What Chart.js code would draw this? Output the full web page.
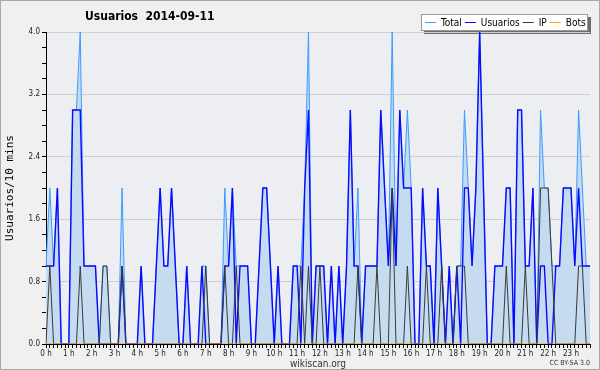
<!DOCTYPE html>
<html>
<head>
<meta charset="utf-8">
<script src="https://cdn.jsdelivr.net/npm/chart.js@4.4.1/dist/chart.umd.min.js"></script>
<style>
  html, body { margin: 0; padding: 0; background: #f0f0f0; }
  canvas { display: block; }
</style>
</head>
<body>
<canvas id="chart" width="600" height="370"></canvas>
<script>
// hour tick labels, one per 6 slots of 10 min
const hours = ['0 h','1 h','2 h','3 h','4 h','5 h','6 h','7 h','8 h','9 h','10 h','11 h',
               '12 h','13 h','14 h','15 h','16 h','17 h','18 h','19 h','20 h','21 h','22 h','23 h'];

// values per 10 minutes, 12 per row (2 hours)
const total = [
  1,2,1,2,0,0,0,3,3,4,1,1,
  1,1,0,1,1,0,0,0,2,0,0,0,
  0,1,0,0,0,1,2,1,1,2,1,0,
  0,1,0,0,0,1,1,0,0,0,0,2,
  1,2,1,1,1,1,0,0,1,2,2,1,
  0,1,0,0,0,1,1,1,2,4,0,1,
  1,1,0,1,0,1,0,1,3,1,2,0,
  1,1,1,1,3,2,1,4,1,3,2,3,
  2,0,0,2,1,1,0,2,1,0,1,0,
  1,1,3,2,1,2,4,2,0,0,1,1,
  1,2,2,0,3,3,1,1,2,0,3,2,
  2,1,1,1,2,2,2,1,3,2,1,1
];
const usuarios = [
  1,1,1,2,0,0,0,3,3,3,1,1,
  1,1,0,0,0,0,0,0,1,0,0,0,
  0,1,0,0,0,1,2,1,1,2,1,0,
  0,1,0,0,0,1,0,0,0,0,0,1,
  1,2,0,1,1,1,0,0,1,2,2,1,
  0,1,0,0,0,1,1,0,2,3,0,1,
  1,1,0,1,0,1,0,1,3,1,1,0,
  1,1,1,1,3,2,1,2,1,3,2,2,
  2,0,0,2,1,1,0,2,1,0,1,0,
  1,0,2,2,1,2,4,2,0,0,1,1,
  1,2,2,0,3,3,1,1,2,0,1,1,
  0,0,1,1,2,2,2,1,2,1,1,1
];
const ip = [
  0,1,0,0,0,0,0,0,0,1,0,0,
  0,0,0,1,1,0,0,0,1,0,0,0,
  0,0,0,0,0,0,0,0,0,0,0,0,
  0,0,0,0,0,0,1,0,0,0,0,1,
  0,0,1,0,0,0,0,0,0,0,0,0,
  0,0,0,0,0,0,0,1,0,1,0,0,
  1,0,0,0,0,0,0,0,0,0,1,0,
  0,0,0,1,0,0,0,2,0,0,0,1,
  0,0,0,0,1,0,0,0,1,0,0,0,
  1,1,1,0,0,0,0,0,0,0,0,0,
  0,1,0,0,0,0,1,0,0,0,2,2,
  2,1,0,0,0,0,0,0,1,1,0,0
];
const bots = [
  0,0,0,0,0,0,0,0,0,0,0,0,
  0,0,0,0,0,0,0,0,0,0,0,0,
  0,0,0,0,0,0,0,0,0,0,0,0,
  0,0,0,0,0,0,0,0,0,0,0,0,
  0,0,0,0,0,0,0,0,0,0,0,0,
  0,0,0,0,0,0,0,0,0,0,0,0,
  0,0,0,0,0,0,0,0,0,0,0,0,
  0,0,0,0,0,0,0,0,0,0,0,0,
  0,0,0,0,0,0,0,0,0,0,0,0,
  0,0,0,0,0,0,0,0,0,0,0,0,
  0,0,0,0,0,0,0,0,0,0,0,0,
  0,0,0,0,0,0,0,0,0,0,0,0
];

// category labels for the 144 slots (hh:mm)
let slots = [];
for (let i = 0; i < total.length; i++) {
  let h = Math.floor(i / 6), m = (i % 6) * 10;
  slots.push((h < 10 ? '0' : '') + h + ':' + (m === 0 ? '00' : m));
}

const FONT = '"DejaVu Sans Condensed", "DejaVu Sans", sans-serif';

function isMajor(v) {
  return Math.abs(v / 0.8 - Math.round(v / 0.8)) < 1e-6;
}

// background, frame, title, legend box and credits
const decor = {
  id: 'decor',
  beforeDraw(chart) {
    const ctx = chart.ctx, a = chart.chartArea;
    ctx.save();
    ctx.fillStyle = '#f0f0f0';
    ctx.fillRect(0, 0, chart.width, chart.height);
    ctx.fillStyle = '#eceef1';
    ctx.fillRect(a.left, a.top, a.right - a.left, a.bottom - a.top);
    ctx.strokeStyle = '#a8a8a8';
    ctx.lineWidth = 1;
    ctx.strokeRect(0.5, 0.5, chart.width - 1, chart.height - 1);

    ctx.fillStyle = '#000';
    ctx.font = 'bold 12px ' + FONT;
    ctx.textBaseline = 'middle';
    ctx.fillText('Usuarios  2014-09-11', 85, 17);

    // legend
    const ds = chart.data.datasets;
    ctx.font = '10px ' + FONT;
    let w = 4 + 2 + 3 * (ds.length - 1);
    ds.forEach(d => { w += 16 + ctx.measureText(d.label).width; });
    w = Math.round(w);
    const right = 588, top = 14, h = 17;
    const left = right - w;
    ctx.fillStyle = '#6e6e6e';
    ctx.fillRect(left + 3, top + 3, w, h);
    ctx.fillStyle = '#ffffff';
    ctx.fillRect(left, top, w, h);
    ctx.strokeStyle = '#9a9a9a';
    ctx.strokeRect(left + 0.5, top + 0.5, w - 1, h - 1);
    let x = left + 4;
    const y = top + 9;
    ds.forEach(d => {
      ctx.fillStyle = d.borderColor;
      ctx.fillRect(x, y - 1, 11, 1);
      x += 16;
      ctx.fillStyle = '#000';
      ctx.fillText(d.label, x, y);
      x += ctx.measureText(d.label).width + 3;
    });

    ctx.font = '7px ' + FONT;
    ctx.fillStyle = '#333';
    ctx.textAlign = 'right';
    ctx.fillText('CC BY-SA 3.0', 590, 363);
    ctx.restore();
  }
};

new Chart(document.getElementById('chart'), {
  type: 'line',
  data: {
    labels: slots,
    datasets: [
      { label: 'Total', data: total, borderColor: '#3d9bff', backgroundColor: '#c5dcf0',
        fill: 'origin', borderWidth: 1, order: 4 },
      { label: 'Usuarios', data: usuarios, borderColor: '#0a0aff', borderWidth: 1.4,
        fill: false, order: 3 },
      { label: 'IP', data: ip, borderColor: '#3a3a3a', borderWidth: 1, fill: false, order: 2 },
      { label: 'Bots', data: bots, borderColor: '#ffa500', borderWidth: 1, fill: false, order: 1 }
    ]
  },
  options: {
    responsive: false,
    animation: false,
    devicePixelRatio: 1,
    layout: { padding: { top: 32, right: 10, left: 0, bottom: 0 } },
    elements: { point: { radius: 0 }, line: { tension: 0 } },
    plugins: {
      legend: { display: false },
      title: { display: false },
      tooltip: { enabled: false }
    },
    scales: {
      x: {
        type: 'category',
        offset: false,
        grid: { drawOnChartArea: false, tickLength: 4, tickColor: '#000' },
        border: { color: '#000', width: 1 },
        ticks: {
          autoSkip: false, maxRotation: 0, padding: 1,
          color: '#222', font: { family: FONT, size: 8 },
          callback: (v, i) => (i % 6 === 0 ? hours[i / 6] : '')
        },
        title: { display: true, text: 'wikiscan.org', color: '#333',
                 font: { family: FONT, size: 10 }, padding: 0 },
        afterFit: s => { s.height = 26; }
      },
      y: {
        min: 0, max: 4,
        grid: {
          color: c => (isMajor(c.tick.value) && c.tick.value > 0 ? '#cfcfcf' : 'rgba(0,0,0,0)'),
          tickColor: '#000', tickLength: 4
        },
        border: { color: '#000', width: 1 },
        ticks: {
          stepSize: 0.2, autoSkip: false, padding: 2,
          color: '#222', font: { family: FONT, size: 8 },
          callback: v => (isMajor(v) ? v.toFixed(1) : '')
        },
        title: { display: true, text: 'Usuarios/10 mins', color: '#000',
                 font: { family: '"DejaVu Sans Mono", monospace', size: 11 },
                 padding: { top: 4, bottom: 0 } },
        afterFit: s => { s.width = 46; }
      }
    }
  },
  plugins: [decor]
});
</script>
</body>
</html>
